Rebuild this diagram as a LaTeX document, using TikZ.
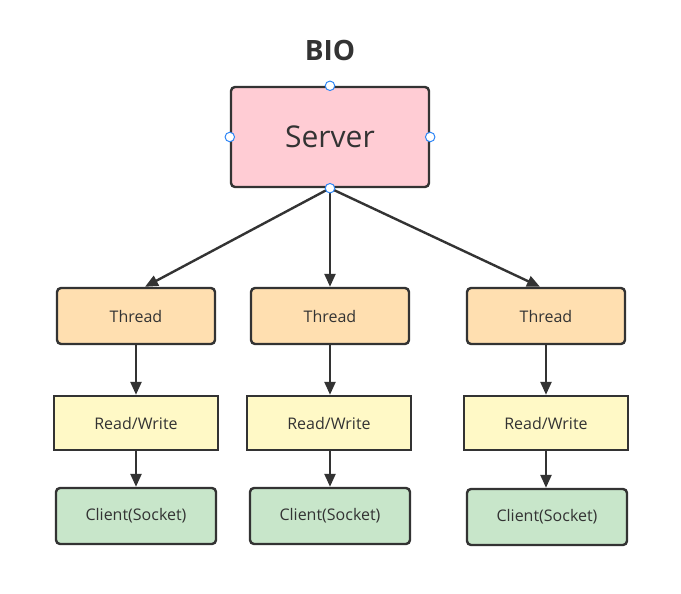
\documentclass[tikz,border=0pt]{standalone}
\usepackage{fontspec}
\setmainfont{Open Sans}
\usetikzlibrary{arrows.meta,calc}
\definecolor{strk}{HTML}{333333}
\definecolor{srvfill}{HTML}{FFCCD4}
\definecolor{thrfill}{HTML}{FFDFB0}
\definecolor{rwfill}{HTML}{FFF9C6}
\definecolor{clfill}{HTML}{C8E6CA}
\definecolor{handle}{HTML}{2F86F6}
\begin{document}
\begin{tikzpicture}[x=1pt,y=-1pt,
  box/.style={draw=strk,line width=2.4pt,text=strk,font=\fontsize{16}{19}\selectfont,inner sep=0pt},
  thr/.style={box,fill=thrfill,rounded corners=4pt,minimum width=158pt,minimum height=56pt},
  rw/.style={box,fill=rwfill,minimum width=164pt,minimum height=54pt},
  cl/.style={box,fill=clfill,rounded corners=4pt,minimum width=160pt,minimum height=56pt},
  arr/.style={draw=strk,line width=2.4pt,-{Triangle[length=13pt,width=11pt]}},
  hdl/.style={circle,draw=handle,fill=white,line width=1pt,minimum size=9.5pt,inner sep=0pt}]
\useasboundingbox (0,0) rectangle (681,594);
\node[text=strk,font=\fontsize{28}{32}\selectfont\bfseries] (title) at (330,50) {BIO};
\node[box,fill=srvfill,rounded corners=4pt,minimum width=198pt,minimum height=100pt,font=\fontsize{30}{34}\selectfont] (srv) at (330,137) {Server};
\node[thr] (t1) at (136,316) {Thread};
\node[thr] (t2) at (330,316) {Thread};
\node[thr] (t3) at (546,316) {Thread};
\node[rw] (r1) at (136,423) {Read/Write};
\node[rw] (r2) at (329,423) {Read/Write};
\node[rw] (r3) at (546,423) {Read/Write};
\node[cl] (c1) at (136,516) {Client(Socket)};
\node[cl] (c2) at (330,516) {Client(Socket)};
\node[cl] (c3) at (547,517) {Client(Socket)};
\draw[arr] (srv.south) -- ($(t1.north)+(9,0)$);
\draw[arr] (srv.south) -- (t2.north);
\draw[arr] (srv.south) -- ($(t3.north)+(-6,0)$);
\draw[arr] (t1.south) -- (t1.south |- r1.north);
\draw[arr] (t2.south) -- (t2.south |- r2.north);
\draw[arr] (t3.south) -- (t3.south |- r3.north);
\draw[arr] (t1.south |- r1.south) -- (t1.south |- c1.north);
\draw[arr] (t2.south |- r2.south) -- (t2.south |- c2.north);
\draw[arr] (t3.south |- r3.south) -- (t3.south |- c3.north);
\node[hdl] (h1) at (srv.north) {};
\node[hdl] (h2) at (srv.west) {};
\node[hdl] (h3) at (srv.east) {};
\node[hdl] (h4) at (srv.south) {};
\end{tikzpicture}
\end{document}
